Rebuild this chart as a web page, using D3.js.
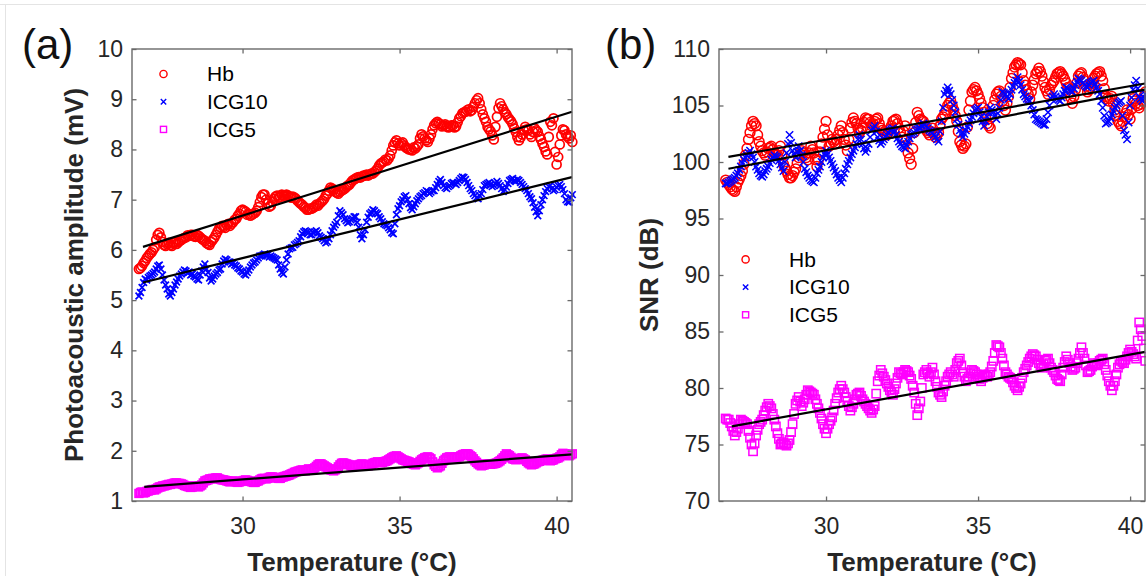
<!DOCTYPE html>
<html><head><meta charset="utf-8">
<script src="https://cdn.jsdelivr.net/npm/d3@7"></script>
<style>
body{margin:0;background:#fff}
svg{display:block}
text{font-family:"Liberation Sans",Arial,Helvetica,sans-serif}
</style>
</head><body>
<svg id="chart" width="1146" height="576"></svg>
<script>
// ---------------- data ----------------
const seriesNames = ["Hb", "ICG10", "ICG5"];
const tempTicks = [30, 35, 40];
const ampTicks = [1, 2, 3, 4, 5, 6, 7, 8, 9, 10];
const snrTicks = [70, 75, 80, 85, 90, 95, 100, 105, 110];

// temperature readings, first pass (°C)
const temps = [
  26.7, 26.8, 26.9,
  27.0, 27.1, 27.2, 27.3, 27.4, 27.5, 27.6, 27.7, 27.8, 27.9,
  28.0, 28.1, 28.2, 28.3, 28.4, 28.5, 28.6, 28.7, 28.8, 28.9,
  29.0, 29.1, 29.2, 29.3, 29.4, 29.5, 29.6, 29.7, 29.8, 29.9,
  30.0, 30.1, 30.2, 30.3, 30.4, 30.5, 30.6, 30.7, 30.8, 30.9,
  31.0, 31.1, 31.2, 31.3, 31.4, 31.5, 31.6, 31.7, 31.8, 31.9,
  32.0, 32.1, 32.2, 32.3, 32.4, 32.5, 32.6, 32.7, 32.8, 32.9,
  33.0, 33.1, 33.2, 33.3, 33.4, 33.5, 33.6, 33.7, 33.8, 33.9,
  34.0, 34.1, 34.2, 34.3, 34.4, 34.5, 34.6, 34.7, 34.8, 34.9,
  35.0, 35.1, 35.2, 35.3, 35.4, 35.5, 35.6, 35.7, 35.8, 35.9,
  36.0, 36.1, 36.2, 36.3, 36.4, 36.5, 36.6, 36.7, 36.8, 36.9,
  37.0, 37.1, 37.2, 37.3, 37.4, 37.5, 37.6, 37.7, 37.8, 37.9,
  38.0, 38.1, 38.2, 38.3, 38.4, 38.5, 38.6, 38.7, 38.8, 38.9,
  39.0, 39.1, 39.2, 39.3, 39.4, 39.5, 39.6, 39.7, 39.8, 39.9,
  40.0, 40.1, 40.2, 40.3, 40.4, 40.5
];
// temperature readings, second pass (°C)
const tempsB = [
  26.75, 26.85, 26.95,
  27.05, 27.15, 27.25, 27.35, 27.45, 27.55, 27.65, 27.75, 27.85, 27.95,
  28.05, 28.15, 28.25, 28.35, 28.45, 28.55, 28.65, 28.75, 28.85, 28.95,
  29.05, 29.15, 29.25, 29.35, 29.45, 29.55, 29.65, 29.75, 29.85, 29.95,
  30.05, 30.15, 30.25, 30.35, 30.45, 30.55, 30.65, 30.75, 30.85, 30.95,
  31.05, 31.15, 31.25, 31.35, 31.45, 31.55, 31.65, 31.75, 31.85, 31.95,
  32.05, 32.15, 32.25, 32.35, 32.45, 32.55, 32.65, 32.75, 32.85, 32.95,
  33.05, 33.15, 33.25, 33.35, 33.45, 33.55, 33.65, 33.75, 33.85, 33.95,
  34.05, 34.15, 34.25, 34.35, 34.45, 34.55, 34.65, 34.75, 34.85, 34.95,
  35.05, 35.15, 35.25, 35.35, 35.45, 35.55, 35.65, 35.75, 35.85, 35.95,
  36.05, 36.15, 36.25, 36.35, 36.45, 36.55, 36.65, 36.75, 36.85, 36.95,
  37.05, 37.15, 37.25, 37.35, 37.45, 37.55, 37.65, 37.75, 37.85, 37.95,
  38.05, 38.15, 38.25, 38.35, 38.45, 38.55, 38.65, 38.75, 38.85, 38.95,
  39.05, 39.15, 39.25, 39.35, 39.45, 39.55, 39.65, 39.75, 39.85, 39.95,
  40.05, 40.15, 40.25, 40.35, 40.45
];

// panel (a): photoacoustic amplitude (mV)
const ampHb = [
  5.62, 5.68, 5.78,
  5.88, 5.95, 6.05, 6.30, 6.25, 6.10, 6.12, 6.10, 6.14, 6.12,
  6.18, 6.22, 6.25, 6.28, 6.30, 6.26, 6.28, 6.22, 6.18, 6.12,
  6.16, 6.24, 6.36, 6.45, 6.46, 6.50, 6.48, 6.55, 6.62, 6.72,
  6.80, 6.76, 6.72, 6.70, 6.74, 6.85, 7.05, 7.10, 6.92, 6.88,
  7.02, 7.08, 7.06, 7.08, 7.10, 7.06, 7.06, 7.02, 6.95, 6.90,
  6.84, 6.80, 6.82, 6.86, 6.88, 6.95, 7.02, 7.12, 7.24, 7.20,
  7.14, 7.16, 7.20, 7.25, 7.30, 7.38, 7.42, 7.45, 7.46, 7.48,
  7.48, 7.52, 7.55, 7.62, 7.72, 7.76, 7.78, 7.88, 8.08, 8.18,
  8.08, 8.14, 8.04, 8.00, 7.98, 8.02, 8.10, 8.30, 8.22, 8.15,
  8.30, 8.48, 8.55, 8.50, 8.48, 8.46, 8.45, 8.48, 8.46, 8.62,
  8.72, 8.75, 8.80, 8.78, 8.92, 9.02, 8.80, 8.62, 8.45, 8.36,
  8.20, 8.65, 8.92, 8.80, 8.70, 8.60, 8.50, 8.35, 8.18, 8.30,
  8.45, 8.38, 8.25, 8.42, 8.35, 8.20, 8.05, 7.90, 8.55, 8.62,
  7.70, 8.10, 8.40, 8.30, 8.22, 8.15
];
const ampHbB = [
  5.64, 5.74, 5.84,
  5.92, 6.00, 6.20, 6.34, 6.16, 6.08, 6.14, 6.08, 6.16, 6.15,
  6.20, 6.24, 6.29, 6.30, 6.27, 6.30, 6.25, 6.20, 6.14, 6.10,
  6.20, 6.30, 6.42, 6.48, 6.44, 6.52, 6.52, 6.60, 6.68, 6.78,
  6.78, 6.70, 6.68, 6.72, 6.78, 6.95, 7.10, 7.00, 6.86, 6.96,
  7.06, 7.04, 7.10, 7.06, 7.08, 7.04, 7.04, 6.98, 6.92, 6.86,
  6.80, 6.82, 6.84, 6.90, 6.92, 6.98, 7.08, 7.18, 7.22, 7.16,
  7.12, 7.18, 7.22, 7.28, 7.34, 7.40, 7.44, 7.44, 7.48, 7.50,
  7.50, 7.52, 7.58, 7.68, 7.74, 7.80, 7.82, 7.98, 8.14, 8.12,
  8.12, 8.08, 8.02, 8.00, 8.04, 8.06, 8.22, 8.26, 8.18, 8.22,
  8.40, 8.52, 8.52, 8.46, 8.50, 8.44, 8.48, 8.44, 8.54, 8.66,
  8.74, 8.78, 8.76, 8.85, 8.98, 8.92, 8.70, 8.55, 8.40, 8.28,
  8.45, 8.82, 8.86, 8.74, 8.64, 8.56, 8.42, 8.25, 8.24, 8.38,
  8.40, 8.30, 8.35, 8.38, 8.26, 8.12, 7.96, 8.25, 8.48, 7.95,
  7.85, 8.28, 8.38, 8.26, 8.28
];
const ampICG10 = [
  5.08, 5.25, 5.42,
  5.45, 5.50, 5.56, 5.68, 5.62, 5.40, 5.22, 5.08, 5.22, 5.36,
  5.48, 5.56, 5.58, 5.56, 5.52, 5.46, 5.40, 5.58, 5.72, 5.55,
  5.38, 5.48, 5.55, 5.62, 5.78, 5.80, 5.76, 5.74, 5.68, 5.62,
  5.56, 5.50, 5.60, 5.70, 5.76, 5.84, 5.88, 5.92, 5.90, 5.88,
  5.84, 5.80, 5.62, 5.52, 5.80, 6.02, 6.05, 6.12, 6.18, 6.32,
  6.38, 6.34, 6.30, 6.36, 6.34, 6.25, 6.18, 6.16, 6.30, 6.45,
  6.55, 6.78, 6.70, 6.58, 6.56, 6.62, 6.66, 6.45, 6.22, 6.40,
  6.65, 6.75, 6.78, 6.72, 6.62, 6.52, 6.48, 6.40, 6.32, 6.70,
  6.88, 7.00, 7.08, 6.92, 6.80, 6.92, 7.02, 7.08, 7.14, 7.16,
  7.15, 7.18, 7.30, 7.40, 7.28, 7.22, 7.28, 7.34, 7.30, 7.38,
  7.45, 7.40, 7.28, 7.18, 7.08, 7.02, 7.12, 7.28, 7.32, 7.30,
  7.28, 7.36, 7.28, 7.16, 7.25, 7.38, 7.42, 7.36, 7.38, 7.30,
  7.22, 7.12, 7.02, 6.85, 6.68, 6.90, 7.08, 7.22, 7.28, 7.18,
  7.25, 7.30, 7.20, 7.00, 6.95, 7.10
];
const ampICG10B = [
  5.15, 5.35, 5.40,
  5.48, 5.53, 5.62, 5.70, 5.50, 5.30, 5.12, 5.15, 5.30, 5.42,
  5.52, 5.60, 5.54, 5.50, 5.48, 5.42, 5.50, 5.66, 5.62, 5.44,
  5.42, 5.52, 5.60, 5.72, 5.82, 5.76, 5.72, 5.70, 5.64, 5.58,
  5.52, 5.55, 5.66, 5.74, 5.80, 5.88, 5.90, 5.90, 5.86, 5.86,
  5.82, 5.70, 5.55, 5.66, 5.92, 6.04, 6.10, 6.15, 6.26, 6.36,
  6.36, 6.30, 6.34, 6.38, 6.28, 6.22, 6.14, 6.22, 6.38, 6.50,
  6.68, 6.74, 6.62, 6.54, 6.60, 6.66, 6.55, 6.30, 6.30, 6.55,
  6.72, 6.80, 6.74, 6.66, 6.56, 6.50, 6.44, 6.34, 6.52, 6.82,
  6.96, 7.06, 7.00, 6.84, 6.86, 6.98, 7.06, 7.12, 7.18, 7.12,
  7.18, 7.24, 7.36, 7.34, 7.24, 7.26, 7.32, 7.32, 7.34, 7.42,
  7.44, 7.34, 7.22, 7.12, 7.04, 7.08, 7.20, 7.30, 7.34, 7.26,
  7.32, 7.32, 7.22, 7.20, 7.32, 7.40, 7.38, 7.40, 7.34, 7.26,
  7.18, 7.06, 6.94, 6.76, 6.78, 7.00, 7.16, 7.26, 7.22, 7.20,
  7.28, 7.26, 7.12, 6.96, 7.04
];
const ampICG5 = [
  1.15, 1.18, 1.17,
  1.20, 1.22, 1.22, 1.26, 1.28, 1.30, 1.32, 1.33, 1.35, 1.36,
  1.35, 1.33, 1.30, 1.28, 1.28, 1.30, 1.28, 1.32, 1.40, 1.42,
  1.44, 1.45, 1.46, 1.43, 1.42, 1.40, 1.38, 1.40, 1.38, 1.38,
  1.40, 1.42, 1.40, 1.38, 1.37, 1.40, 1.44, 1.45, 1.45, 1.48,
  1.47, 1.46, 1.45, 1.48, 1.50, 1.52, 1.55, 1.58, 1.60, 1.62,
  1.60, 1.64, 1.62, 1.66, 1.72, 1.74, 1.70, 1.66, 1.62, 1.60,
  1.64, 1.72, 1.76, 1.74, 1.72, 1.68, 1.70, 1.72, 1.74, 1.72,
  1.70, 1.73, 1.76, 1.78, 1.76, 1.78, 1.80, 1.84, 1.88, 1.90,
  1.86, 1.82, 1.80, 1.78, 1.74, 1.72, 1.76, 1.82, 1.86, 1.88,
  1.84, 1.72, 1.66, 1.70, 1.80, 1.86, 1.88, 1.86, 1.87, 1.88,
  1.92, 1.94, 1.93, 1.88, 1.80, 1.74, 1.70, 1.72, 1.74, 1.73,
  1.74, 1.76, 1.80, 1.86, 1.94, 1.90, 1.84, 1.82, 1.84, 1.86,
  1.82, 1.76, 1.72, 1.74, 1.78, 1.80, 1.82, 1.84, 1.80, 1.82,
  1.85, 1.88, 1.95, 1.92, 1.90, 1.94
];
const ampICG5B = [
  1.17, 1.16, 1.19,
  1.21, 1.23, 1.24, 1.28, 1.30, 1.31, 1.33, 1.34, 1.36, 1.35,
  1.34, 1.31, 1.29, 1.27, 1.30, 1.29, 1.30, 1.36, 1.41, 1.44,
  1.45, 1.46, 1.44, 1.42, 1.41, 1.39, 1.39, 1.39, 1.37, 1.39,
  1.41, 1.41, 1.39, 1.37, 1.39, 1.42, 1.45, 1.44, 1.47, 1.48,
  1.46, 1.45, 1.47, 1.49, 1.51, 1.54, 1.57, 1.59, 1.61, 1.61,
  1.62, 1.63, 1.64, 1.69, 1.74, 1.72, 1.68, 1.64, 1.61, 1.62,
  1.68, 1.75, 1.75, 1.73, 1.70, 1.69, 1.71, 1.73, 1.73, 1.71,
  1.72, 1.75, 1.77, 1.77, 1.77, 1.79, 1.82, 1.86, 1.89, 1.88,
  1.84, 1.81, 1.79, 1.76, 1.73, 1.74, 1.79, 1.84, 1.87, 1.86,
  1.78, 1.69, 1.68, 1.75, 1.83, 1.87, 1.87, 1.86, 1.88, 1.90,
  1.93, 1.94, 1.90, 1.84, 1.77, 1.72, 1.71, 1.73, 1.74, 1.74,
  1.75, 1.78, 1.83, 1.90, 1.92, 1.87, 1.83, 1.83, 1.85, 1.84,
  1.79, 1.74, 1.73, 1.76, 1.79, 1.81, 1.83, 1.82, 1.81, 1.84,
  1.86, 1.92, 1.94, 1.91, 1.92
];

// panel (b): SNR (dB)
const snrHb = [
  98.4, 98.0, 97.6,
  97.4, 98.2, 98.8, 99.8, 101.2, 102.6, 103.6, 103.2, 101.8, 101.0,
  100.6, 101.2, 101.4, 100.8, 100.6, 101.4, 99.8, 99.2, 98.6, 98.8,
  99.4, 100.4, 101.0, 100.6, 100.2, 101.4, 100.8, 99.6, 100.9, 102.2,
  103.6, 101.4, 102.0, 101.6, 102.4, 103.2, 102.0, 101.0, 103.0, 103.9,
  103.4, 102.6, 103.0, 103.9, 103.8, 103.2, 103.6, 103.9, 103.0, 102.6,
  102.4, 102.9, 103.6, 103.8, 103.0, 102.2, 103.2, 100.8, 99.8, 102.6,
  104.4, 103.8, 103.6, 102.8, 102.4, 103.0, 102.2, 102.6, 103.8, 104.2,
  105.0, 105.4, 104.6, 103.6, 101.8, 101.2, 101.6, 104.6, 106.2, 106.6,
  106.0, 105.2, 104.4, 103.4, 103.0, 105.0, 106.0, 106.3, 105.4, 104.6,
  105.8, 107.4, 108.4, 108.8, 108.6, 107.2, 106.4, 105.6, 106.8, 107.8,
  108.3, 107.6, 106.6, 106.0, 106.8, 107.2, 107.8, 108.0, 107.6, 107.0,
  106.2, 105.2, 106.4, 107.6, 107.9, 107.2, 106.2, 106.6, 107.4, 107.8,
  108.0, 107.2, 105.8, 105.4, 105.8, 104.6, 103.6, 103.2, 104.0, 104.6,
  103.8, 105.6, 105.2, 104.8, 105.4, 106.2
];
const snrHbB = [
  98.2, 97.8, 97.5,
  97.8, 98.5, 99.2, 100.6, 102.0, 103.2, 103.4, 102.4, 101.4, 100.8,
  100.9, 101.3, 101.1, 100.7, 101.0, 100.6, 99.5, 98.9, 98.6, 99.1,
  99.9, 100.7, 100.8, 100.4, 100.8, 101.1, 100.2, 100.2, 101.6, 102.9,
  102.4, 101.7, 101.8, 102.0, 102.8, 102.6, 101.5, 102.0, 103.5, 103.6,
  103.0, 102.8, 103.5, 103.8, 103.5, 103.4, 103.8, 103.4, 102.8, 102.5,
  102.6, 103.2, 103.7, 103.4, 102.6, 102.7, 102.0, 100.3, 101.2, 103.5,
  104.1, 103.7, 103.2, 102.6, 102.7, 102.6, 102.4, 103.2, 104.0, 104.6,
  105.2, 105.0, 104.1, 102.7, 101.5, 101.4, 103.1, 105.4, 106.4, 106.3,
  105.6, 104.8, 103.9, 103.2, 104.0, 105.5, 106.2, 105.8, 105.0, 105.2,
  106.6, 107.9, 108.6, 108.7, 107.9, 106.8, 106.0, 106.2, 107.3, 108.0,
  108.0, 107.1, 106.3, 106.4, 107.0, 107.5, 107.9, 107.8, 107.3, 106.6,
  105.7, 105.8, 107.0, 107.8, 107.5, 106.7, 106.4, 107.0, 107.6, 107.9,
  107.6, 106.5, 105.6, 105.6, 105.2, 104.1, 103.4, 103.6, 104.3, 104.2,
  104.7, 105.4, 105.0, 105.1, 105.8
];
const snrICG10 = [
  98.1, 98.2, 98.4,
  98.6, 99.0, 99.6, 100.2, 100.6, 101.0, 100.4, 99.6, 99.0, 98.7,
  99.2, 99.6, 100.2, 100.6, 100.4, 99.8, 99.2, 100.8, 102.4, 101.0,
  100.4, 101.4, 100.6, 99.4, 98.8, 98.4, 98.2, 99.0, 99.6, 100.4,
  101.0, 100.4, 99.8, 99.2, 98.6, 98.2, 99.0, 99.8, 100.4, 101.0,
  101.6, 102.4, 101.6, 100.9, 101.6, 102.8, 103.2, 102.2, 101.6, 102.0,
  102.4, 102.8, 103.0, 102.4, 101.8, 101.4, 101.2, 101.8, 102.4, 102.6,
  102.9, 103.0, 103.4, 103.2, 102.8, 102.6, 102.2, 101.8, 103.6, 106.0,
  106.6, 106.0, 105.0, 103.8, 102.8, 102.2, 102.8, 103.4, 104.0, 104.6,
  104.8, 104.0, 103.2, 104.0, 104.8, 104.4, 103.8, 104.8, 106.2, 106.0,
  105.6, 106.4, 107.0, 107.5, 106.8, 106.0, 105.6, 105.4, 104.6, 103.8,
  103.6, 103.4, 103.3, 104.4, 105.6, 106.0, 105.6, 105.4, 106.0, 106.6,
  106.4, 106.2, 106.8, 107.4, 107.2, 106.8, 106.6, 107.0, 107.2, 106.6,
  106.0, 104.8, 103.4, 103.6, 104.2, 104.8, 105.2, 105.4, 102.8, 102.0,
  105.0, 106.4, 107.2, 105.8, 105.4, 106.0
];
const snrICG10B = [
  98.1, 98.3, 98.5,
  98.8, 99.3, 99.9, 100.4, 100.8, 100.7, 100.0, 99.3, 98.8, 98.9,
  99.4, 99.9, 100.4, 100.5, 100.1, 99.5, 100.0, 101.6, 101.7, 100.7,
  100.9, 101.0, 100.0, 99.1, 98.6, 98.3, 98.6, 99.3, 100.0, 100.7,
  100.7, 100.1, 99.5, 98.9, 98.4, 98.6, 99.4, 100.1, 100.7, 101.3,
  102.0, 102.0, 101.2, 101.2, 102.2, 103.0, 102.7, 101.9, 101.8, 102.2,
  102.6, 102.9, 102.7, 102.1, 101.6, 101.3, 101.5, 102.1, 102.5, 102.8,
  103.0, 103.2, 103.3, 103.0, 102.7, 102.4, 102.0, 102.7, 104.8, 106.3,
  106.3, 105.5, 104.4, 103.3, 102.5, 102.5, 103.1, 103.7, 104.3, 104.7,
  104.4, 103.6, 103.6, 104.4, 104.6, 104.1, 104.3, 105.5, 106.1, 105.8,
  106.0, 106.7, 107.2, 107.1, 106.4, 105.8, 105.5, 105.0, 104.2, 103.7,
  103.5, 103.3, 103.8, 105.0, 105.8, 105.8, 105.5, 105.7, 106.3, 106.5,
  106.3, 106.5, 107.1, 107.3, 107.0, 106.7, 106.8, 107.1, 106.9, 106.3,
  105.4, 104.1, 103.5, 103.9, 104.5, 105.0, 105.3, 104.1, 102.4, 103.5,
  105.7, 106.8, 106.5, 105.6, 105.7
];
const snrICG5 = [
  77.3, 77.2, 76.6,
  75.8, 76.4, 77.2, 77.0, 76.8, 75.6, 74.4, 75.8, 76.8, 77.2,
  78.0, 78.6, 78.2, 77.2, 76.0, 75.0, 75.2, 74.9, 75.4, 76.8,
  78.6, 79.2, 78.4, 79.0, 79.8, 79.6, 79.4, 78.6, 77.8, 76.8,
  76.0, 76.8, 77.4, 78.6, 79.6, 80.2, 79.6, 78.8, 78.0, 78.6,
  79.4, 79.6, 79.0, 78.6, 78.2, 77.8, 78.4, 80.6, 81.6, 81.0,
  80.4, 79.8, 79.4, 80.4, 81.4, 81.2, 81.6, 81.4, 80.8, 79.6,
  77.6, 78.8, 81.2, 81.6, 81.0, 81.8, 80.6, 79.6, 79.2, 80.2,
  81.0, 81.4, 81.0, 82.2, 82.6, 81.4, 80.6, 81.0, 81.6, 81.4,
  81.0, 80.6, 81.2, 81.0, 81.4, 82.4, 83.8, 83.6, 82.6, 81.4,
  81.0, 80.8, 80.2, 79.8, 80.4, 81.4, 82.0, 82.6, 83.0, 82.8,
  82.2, 81.8, 82.4, 82.6, 81.8, 81.4, 80.8, 80.6, 81.8, 82.8,
  82.2, 81.6, 81.8, 82.6, 83.6, 82.6, 81.4, 81.6, 82.2, 82.0,
  82.4, 82.6, 81.6, 80.6, 79.8, 80.6, 81.8, 82.4, 82.2, 82.8,
  83.4, 83.0, 82.6, 85.8, 84.6, 82.4
];
const snrICG5B = [
  77.2, 76.9, 76.2,
  76.1, 76.8, 77.1, 76.9, 76.2, 75.0, 75.1, 76.3, 77.0, 77.6,
  78.3, 78.4, 77.7, 76.6, 75.5, 75.1, 75.0, 75.1, 76.1, 77.7,
  78.9, 78.8, 78.7, 79.4, 79.7, 79.5, 79.0, 78.2, 77.3, 76.4,
  76.4, 77.1, 78.0, 79.1, 79.9, 79.9, 79.2, 78.4, 78.3, 79.0,
  79.5, 79.3, 78.8, 78.4, 78.0, 78.1, 79.5, 81.1, 81.3, 80.7,
  80.1, 79.6, 79.9, 80.9, 81.3, 81.4, 81.5, 81.1, 80.2, 78.6,
  78.2, 80.0, 81.4, 81.3, 81.4, 81.2, 80.1, 79.4, 79.7, 80.6,
  81.2, 81.2, 81.6, 82.4, 82.0, 81.0, 80.8, 81.3, 81.5, 81.2,
  80.8, 80.9, 81.1, 81.2, 81.9, 83.1, 83.7, 83.1, 82.0, 81.2,
  80.9, 80.5, 80.0, 80.1, 80.9, 81.7, 82.3, 82.8, 82.9, 82.5,
  82.0, 82.1, 82.5, 82.2, 81.6, 81.1, 80.7, 81.2, 82.3, 82.5,
  81.9, 81.7, 82.2, 83.1, 83.1, 82.0, 81.5, 81.9, 82.1, 82.2,
  82.5, 82.1, 81.1, 80.2, 80.2, 81.2, 82.1, 82.3, 82.5, 83.1,
  83.2, 82.8, 84.2, 85.2, 83.5
];

// linear fits: [t0, v0, t1, v1]
const ampFits = [[26.83, 6.06, 40.49, 8.75], [26.83, 5.35, 40.49, 7.45], [26.87, 1.28, 40.49, 1.93]];
const snrFits = [[26.79, 100.45, 40.49, 106.95], [26.79, 99.4, 40.49, 106.4], [26.9, 76.6, 40.49, 83.2]];

// ---------------- drawing ----------------
const svg = d3.select("#chart");
svg.append("rect").attr("width", 1146).attr("height", 576).attr("fill", "#fff");
svg.append("line").attr("x1", 0).attr("x2", 1146).attr("y1", 4.5).attr("y2", 4.5).attr("stroke", "#e4e4e4");
svg.append("line").attr("x1", 5.5).attr("x2", 5.5).attr("y1", 4.5).attr("y2", 576).attr("stroke", "#e4e4e4");

const colors = ["#ff0000", "#0000ff", "#ff00ff"];
const FONT = '"Liberation Sans",Arial,Helvetica,sans-serif';
const AXC = "#6a6a6a";

function marker(g, kind, cx, cy, s, sw) {
  if (kind === 0) {
    g.append("circle").attr("cx", cx).attr("cy", cy).attr("r", s)
      .attr("fill", "none").attr("stroke", colors[0]).attr("stroke-width", sw);
  } else if (kind === 1) {
    const a = s * 0.75;
    g.append("path").attr("d", `M${cx - a},${cy - a}L${cx + a},${cy + a}M${cx - a},${cy + a}L${cx + a},${cy - a}`)
      .attr("fill", "none").attr("stroke", colors[1]).attr("stroke-width", sw);
  } else {
    const a = s * 0.85;
    g.append("rect").attr("x", cx - a).attr("y", cy - a).attr("width", 2 * a).attr("height", 2 * a)
      .attr("fill", "none").attr("stroke", colors[2]).attr("stroke-width", sw);
  }
}

const allTemps = temps.concat(tempsB);
const panels = [
  { left: 132, right: 572, top: 49, bottom: 501, yDomain: [1, 10], yTicks: ampTicks,
    series: [ampHb.concat(ampHbB), ampICG10.concat(ampICG10B), ampICG5.concat(ampICG5B)],
    fits: ampFits, ylabel: "Photoacoustic amplitude (mV)",
    ylabelX: 83, tag: "(a)", tagX: 22, legX: 163.5, legY: 74, legTX: 207, r: 4.5, sw: 1.7 },
  { left: 719, right: 1145, top: 49, bottom: 501, yDomain: [70, 110], yTicks: snrTicks,
    series: [snrHb.concat(snrHbB), snrICG10.concat(snrICG10B), snrICG5.concat(snrICG5B)],
    fits: snrFits, ylabel: "SNR (dB)",
    ylabelX: 658, tag: "(b)", tagX: 605, legX: 745.6, legY: 259.4, legTX: 789, r: 4.9, sw: 1.5 }
];

panels.forEach(p => {
  const x = d3.scaleLinear().domain([26.48, 40.49]).range([p.left, p.right]);
  const y = d3.scaleLinear().domain(p.yDomain).range([p.bottom, p.top]);
  const g = svg.append("g");

  // data
  p.series.forEach((vals, k) => {
    const sg = g.append("g");
    vals.forEach((v, i) => marker(sg, k, x(allTemps[i]), y(v), p.r, p.sw));
  });
  // fits
  p.fits.forEach(f => {
    g.append("line").attr("x1", x(f[0])).attr("y1", y(f[1])).attr("x2", x(f[2])).attr("y2", y(f[3]))
      .attr("stroke", "#000").attr("stroke-width", 2.2);
  });

  // axes
  const styleAxis = (ag, showText) => {
    ag.select(".domain").remove();
    ag.selectAll(".tick line").attr("stroke", AXC).attr("stroke-width", 1.3);
    ag.selectAll("text").attr("font-family", FONT).attr("font-size", 23).attr("fill", "#262626");
    if (!showText) ag.selectAll("text").remove();
  };
  g.append("g").attr("transform", `translate(0,${p.bottom})`)
    .call(d3.axisBottom(x).tickValues(tempTicks).tickSize(-4.5).tickPadding(17))
    .call(a => styleAxis(a, true));
  g.append("g").attr("transform", `translate(0,${p.top})`)
    .call(d3.axisTop(x).tickValues(tempTicks).tickSize(-4.5))
    .call(a => styleAxis(a, false));
  g.append("g").attr("transform", `translate(${p.left},0)`)
    .call(d3.axisLeft(y).tickValues(p.yTicks).tickSize(-4.5).tickPadding(9))
    .call(a => styleAxis(a, true));
  g.append("g").attr("transform", `translate(${p.right},0)`)
    .call(d3.axisRight(y).tickValues(p.yTicks).tickSize(-4.5))
    .call(a => styleAxis(a, false));
  g.append("rect").attr("x", p.left).attr("y", p.top).attr("width", p.right - p.left)
    .attr("height", p.bottom - p.top).attr("fill", "none").attr("stroke", AXC).attr("stroke-width", 1.4);

  // labels
  g.append("text").attr("x", (p.left + p.right) / 2).attr("y", 571).attr("text-anchor", "middle")
    .attr("font-size", 26).attr("font-weight", "bold").attr("fill", "#262626").text("Temperature (°C)");
  g.append("text").attr("transform", `translate(${p.ylabelX},${(p.top + p.bottom) / 2}) rotate(-90)`)
    .attr("text-anchor", "middle").attr("font-size", 26).attr("font-weight", "bold").attr("fill", "#262626")
    .text(p.ylabel);
  g.append("text").attr("x", p.tagX).attr("y", 59).attr("font-size", 42).attr("fill", "#111").text(p.tag);

  // legend
  seriesNames.forEach((nm, k) => {
    const ly = p.legY + k * 27.7;
    marker(g, k, p.legX, ly, 3.6, 1.4);
    g.append("text").attr("x", p.legTX).attr("y", ly).attr("dy", "0.35em")
      .attr("font-size", 21).attr("fill", "#000").text(nm);
  });
});
</script>
</body></html>
